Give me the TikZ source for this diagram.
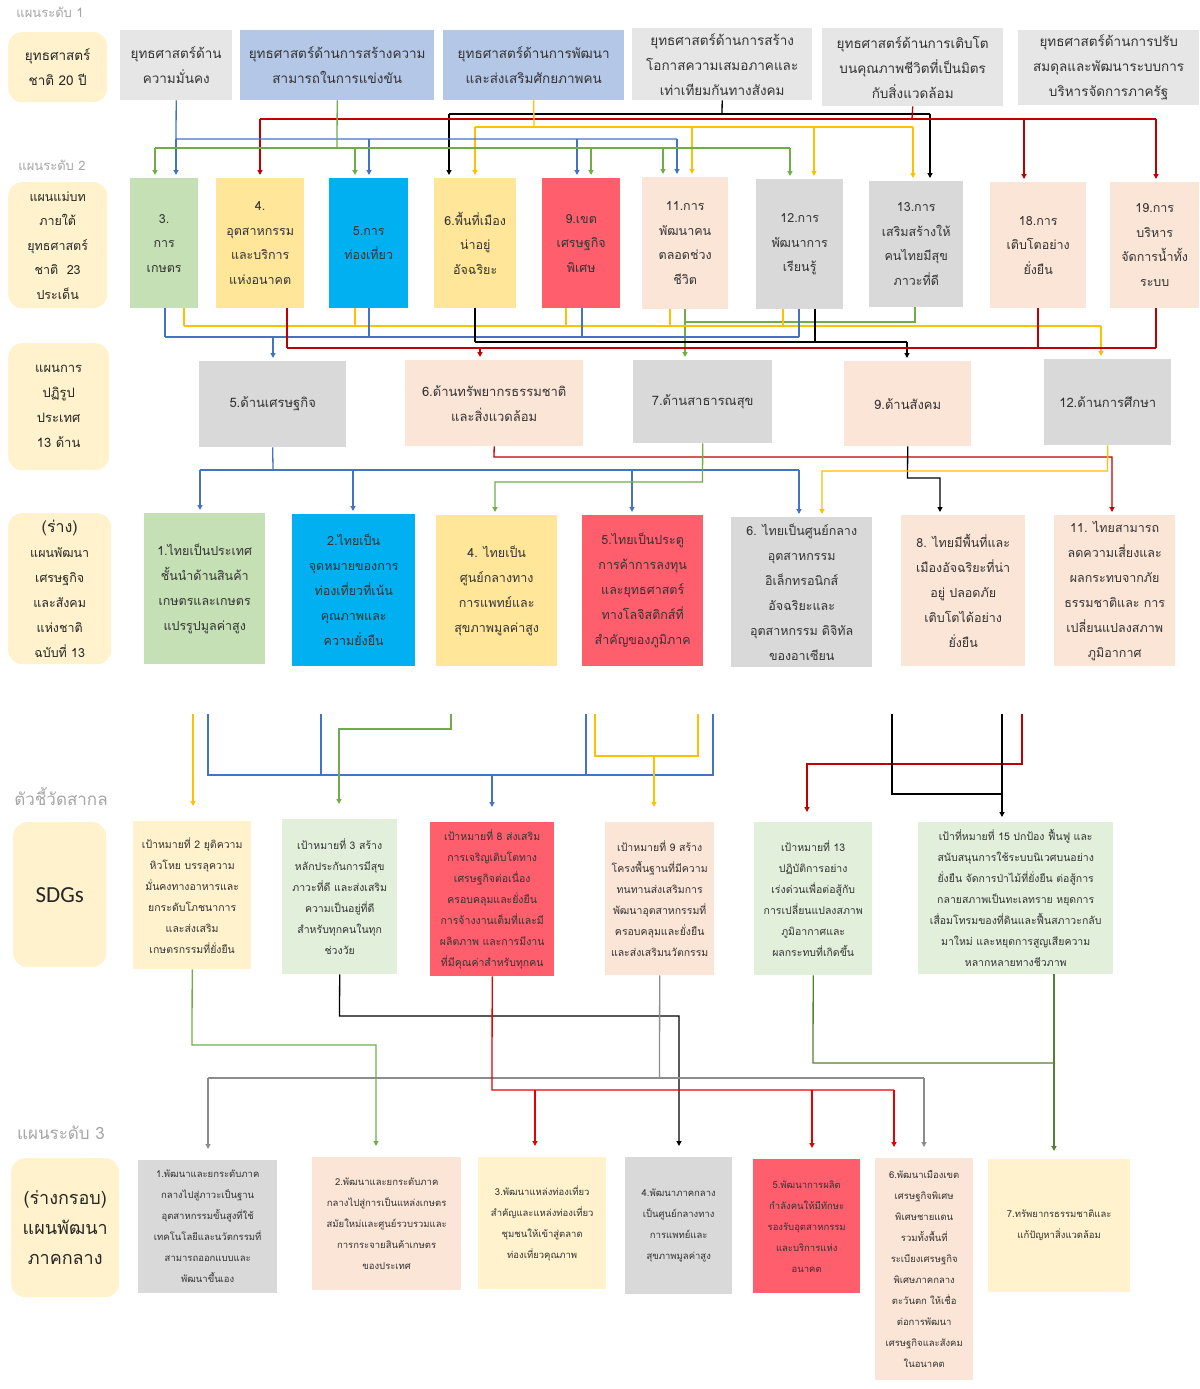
\documentclass[tikz,border=0pt]{standalone}
\usepackage{fontspec}
\newfontfamily\thai[Script=Thai]{Loma}
\newfontfamily\sdgfont{Carlito}
\usetikzlibrary{arrows.meta}
\definecolor{labc}{HTML}{FFF2CC}
\definecolor{grl}{HTML}{E7E6E6}
\definecolor{blb}{HTML}{B4C7E7}
\definecolor{grn}{HTML}{C5E0B4}
\definecolor{ylw}{HTML}{FFE699}
\definecolor{cyn}{HTML}{00B0F0}
\definecolor{rdb}{HTML}{FF5F6D}
\definecolor{pch}{HTML}{FBE5D6}
\definecolor{gry}{HTML}{D9D9D9}
\definecolor{grs}{HTML}{E2EFDA}
\definecolor{lyl}{HTML}{FFF2CC}
\definecolor{txt}{HTML}{333333}
\definecolor{headc}{HTML}{A6A6A6}
\definecolor{lblue}{HTML}{4472C4}
\definecolor{lgreen}{HTML}{70AD47}
\definecolor{lgreen2}{HTML}{548235}
\definecolor{lred}{HTML}{C00000}
\definecolor{lred2}{HTML}{E80000}
\definecolor{lyel}{HTML}{FFC000}
\definecolor{lgray}{HTML}{8C8C8C}

\begin{document}
\begin{tikzpicture}[x=1pt,y=-1pt,
  box/.style={anchor=north west,align=center,inner sep=1pt,text=txt},
  lab/.style={box,fill=labc,rounded corners=14pt,text=black!85},
  sz/.style 2 args={minimum width=#1,minimum height=#2},
  f1/.style={font=\thai\fontsize{13.5}{25}\selectfont},
  f2/.style={font=\thai\fontsize{12.5}{24.5}\selectfont},
  f3/.style={font=\thai\fontsize{13}{25}\selectfont},
  f4/.style={font=\thai\fontsize{12.5}{25}\selectfont},
  f5/.style={font=\thai\fontsize{10.5}{21}\selectfont},
  f6/.style={font=\thai\fontsize{9.5}{21}\selectfont},
  hd/.style={text=headc,font=\thai\fontsize{13}{15}\selectfont},
  ln/.style={line width=1.3pt},
  ar/.style={ln,-{Triangle[length=5pt,width=5pt]},shorten >=3pt}]
\useasboundingbox (0,0) rectangle (1199,1389);
\fill[white] (0,0) rectangle (1199,1389);

% headings
\node[hd] (h1) at (50,12) {แผนระดับ 1};
\node[hd] (h2) at (52,165) {แผนระดับ 2};
\node[hd,font=\thai\fontsize{17}{19}\selectfont] (h5) at (61,797) {ตัวชี้วัดสากล};
\node[hd,font=\thai\fontsize{17}{19}\selectfont] (h6) at (61,1133) {แผนระดับ 3};

% level 1
\node[lab,f1,sz={99}{70}] (L1) at (8,32) {ยุทธศาสตร์\\ชาติ 20 ปี};
\node[box,f1,fill=grl,sz={112}{70}] (s1) at (120,30) {ยุทธศาสตร์ด้าน\\ความมั่นคง};
\node[box,f1,fill=blb,sz={194}{70}] (s2) at (240,30) {ยุทธศาสตร์ด้านการสร้างความ\\สามารถในการแข่งขัน};
\node[box,f1,fill=blb,sz={181}{70}] (s3) at (443,30) {ยุทธศาสตร์ด้านการพัฒนา\\และส่งเสริมศักยภาพคน};
\node[box,f1,fill=grl,sz={180}{72}] (s4) at (632,28) {ยุทธศาสตร์ด้านการสร้าง\\โอกาสความเสมอภาคและ\\เท่าเทียมกันทางสังคม};
\node[box,f1,fill=grl,sz={181}{78}] (s5) at (822,28) {ยุทธศาสตร์ด้านการเติบโต\\บนคุณภาพชีวิตที่เป็นมิตร\\กับสิ่งแวดล้อม};
\node[box,f1,fill=grl,sz={181}{75}] (s6) at (1018,30) {ยุทธศาสตร์ด้านการปรับ\\สมดุลและพัฒนาระบบการ\\บริหารจัดการภาครัฐ};

% level 2: master plans
\node[lab,f2,sz={99}{126}] (L2) at (8,182) {แผนแม่บท\\ภายใต้\\ยุทธศาสตร์\\ชาติ~~23\\ประเด็น};
\node[box,f2,fill=grn,sz={68}{130}] (m3) at (130,178) {3.\\การ\\เกษตร};
\node[box,f2,fill=ylw,sz={88}{130}] (m4) at (216,178) {4.\\อุตสาหกรรม\\และบริการ\\แห่งอนาคต};
\node[box,f2,fill=cyn,sz={79}{130}] (m5) at (329,178) {5.การ\\ท่องเที่ยว};
\node[box,f2,fill=ylw,sz={82}{130}] (m6) at (434,178) {6.พื้นที่เมือง\\น่าอยู่\\อัจฉริยะ};
\node[box,f2,fill=rdb,sz={78}{130}] (m9) at (542,178) {9.เขต\\เศรษฐกิจ\\พิเศษ};
\node[box,f2,fill=pch,sz={86}{132}] (m11) at (642,177) {11.การ\\พัฒนาคน\\ตลอดช่วง\\ชีวิต};
\node[box,f2,fill=gry,sz={87}{130}] (m12) at (756,179) {12.การ\\พัฒนาการ\\เรียนรู้};
\node[box,f2,fill=gry,sz={94}{126}] (m13) at (869,181) {13.การ\\เสริมสร้างให้\\คนไทยมีสุข\\ภาวะที่ดี};
\node[box,f2,fill=pch,sz={96}{126}] (m18) at (990,182) {18.การ\\เติบโตอย่าง\\ยั่งยืน};
\node[box,f2,fill=pch,sz={89}{126}] (m19) at (1110,182) {19.การ\\บริหาร\\จัดการน้ำทั้ง\\ระบบ};

% reform plans
\node[lab,f3,sz={101}{127}] (L3) at (8,343) {แผนการ\\ปฏิรูป\\ประเทศ\\13 ด้าน};
\node[box,f3,fill=gry,sz={147}{86}] (r5) at (199,361) {5.ด้านเศรษฐกิจ};
\node[box,f3,fill=pch,sz={178}{86}] (r6) at (405,360) {6.ด้านทรัพยากรธรรมชาติ\\และสิ่งแวดล้อม};
\node[box,f3,fill=gry,sz={139}{83}] (r7) at (633,360) {7.ด้านสาธารณสุข};
\node[box,f3,fill=pch,sz={127}{85}] (r9) at (844,361) {9.ด้านสังคม};
\node[box,f3,fill=gry,sz={127}{86}] (r12) at (1044,359) {12.ด้านการศึกษา};

% national plan 13
\node[lab,f4,sz={103}{151}] (L4) at (8,513) {{\fontsize{16}{25}\selectfont(ร่าง)}\\แผนพัฒนา\\เศรษฐกิจ\\และสังคม\\แห่งชาติ\\ฉบับที่ 13};
\node[box,f4,fill=grn,sz={121}{151}] (p1) at (144,513) {1.ไทยเป็นประเทศ\\ชั้นนำด้านสินค้า\\เกษตรและเกษตร\\แปรรูปมูลค่าสูง};
\node[box,f4,fill=cyn,sz={123}{152}] (p2) at (292,514) {2.ไทยเป็น\\จุดหมายของการ\\ท่องเที่ยวที่เน้น\\คุณภาพและ\\ความยั่งยืน};
\node[box,f4,fill=ylw,sz={121}{151}] (p4) at (436,515) {4. ไทยเป็น\\ศูนย์กลางทาง\\การแพทย์และ\\สุขภาพมูลค่าสูง};
\node[box,f4,fill=rdb,sz={121}{151}] (p5) at (582,515) {5.ไทยเป็นประตู\\การค้าการลงทุน\\และยุทธศาสตร์\\ทางโลจิสติกส์ที่\\สำคัญของภูมิภาค};
\node[box,f4,fill=gry,sz={141}{150}] (p6) at (731,517) {6. ไทยเป็นศูนย์กลาง\\อุตสาหกรรม\\อิเล็กทรอนิกส์\\อัจฉริยะและ\\อุตสาหกรรม ดิจิทัล\\ของอาเซียน};
\node[box,f4,fill=pch,sz={124}{151}] (p8) at (901,515) {8. ไทยมีพื้นที่และ\\เมืองอัจฉริยะที่น่า\\อยู่ ปลอดภัย\\เติบโตได้อย่าง\\ยั่งยืน};
\node[box,f4,fill=pch,sz={121}{151}] (p11) at (1054,515) {11. ไทยสามารถ\\ลดความเสี่ยงและ\\ผลกระทบจากภัย\\ธรรมชาติและ การ\\เปลี่ยนแปลงสภาพ\\ภูมิอากาศ};

% SDGs
\node[lab,sz={93}{145},font=\sdgfont\fontsize{23}{26}\selectfont] (L5) at (13,822) {SDGs};
\node[box,f5,fill=lyl,sz={118}{148}] (g2) at (133,821) {เป้าหมายที่ 2 ยุติความ\\หิวโหย บรรลุความ\\มั่นคงทางอาหารและ\\ยกระดับโภชนาการ\\และส่งเสริม\\เกษตรกรรมที่ยั่งยืน};
\node[box,f5,fill=grs,sz={115}{155}] (g3) at (282,819) {เป้าหมายที่ 3 สร้าง\\หลักประกันการมีสุข\\ภาวะที่ดี และส่งเสริม\\ความเป็นอยู่ที่ดี\\สำหรับทุกคนในทุก\\ช่วงวัย};
\node[box,f5,fill=rdb,sz={124}{154}] (g8) at (430,822) {เป้าหมายที่ 8 ส่งเสริม\\การเจริญเติบโตทาง\\เศรษฐกิจต่อเนื่อง\\ครอบคลุมและยั่งยืน\\การจ้างงานเต็มที่และมี\\ผลิตภาพ และการมีงาน\\ที่มีคุณค่าสำหรับทุกคน};
\node[box,f5,fill=pch,sz={109}{153}] (g9) at (605,822) {เป้าหมายที่ 9 สร้าง\\โครงพื้นฐานที่มีความ\\ทนทานส่งเสริมการ\\พัฒนาอุตสาหกรรมที่\\ครอบคลุมและยั่งยืน\\และส่งเสริมนวัตกรรม};
\node[box,f5,fill=grs,sz={118}{153}] (g13) at (754,822) {เป้าหมายที่ 13\\ปฏิบัติการอย่าง\\เร่งด่วนเพื่อต่อสู้กับ\\การเปลี่ยนแปลงสภาพ\\ภูมิอากาศและ\\ผลกระทบที่เกิดขึ้น};
\node[box,f5,fill=grs,sz={195}{152}] (g15) at (918,822) {เป้าที่หมายที่ 15 ปกป้อง ฟื้นฟู และ\\สนับสนุนการใช้ระบบนิเวศบนอย่าง\\ยั่งยืน จัดการป่าไม้ที่ยั่งยืน ต่อสู้การ\\กลายสภาพเป็นทะเลทราย หยุดการ\\เสื่อมโทรมของที่ดินและฟื้นสภาวะกลับ\\มาใหม่ และหยุดการสูญเสียความ\\หลากหลายทางชีวภาพ};

% level 3: central region
\node[lab,sz={108}{139},font=\thai\fontsize{18}{30}\selectfont] (L6) at (11,1158) {(ร่างกรอบ)\\แผนพัฒนา\\ภาคกลาง};
\node[box,f6,fill=gry,sz={139}{133}] (b1) at (138,1160) {1.พัฒนาและยกระดับภาค\\กลางไปสู่ภาวะเป็นฐาน\\อุตสาหกรรมขั้นสูงที่ใช้\\เทคโนโลยีและนวัตกรรมที่\\สามารถออกแบบและ\\พัฒนาขึ้นเอง};
\node[box,f6,fill=pch,sz={149}{133}] (b2) at (312,1157) {2.พัฒนาและยกระดับภาค\\กลางไปสู่การเป็นแหล่งเกษตร\\สมัยใหม่และศูนย์รวบรวมและ\\การกระจายสินค้าเกษตร\\ของประเทศ};
\node[box,f6,fill=lyl,sz={128}{132}] (b3) at (478,1157) {3.พัฒนาแหล่งท่องเที่ยว\\สำคัญและแหล่งท่องเที่ยว\\ชุมชนให้เข้าสู่ตลาด\\ท่องเที่ยวคุณภาพ};
\node[box,f6,fill=gry,sz={107}{137}] (b4) at (625,1157) {4.พัฒนาภาคกลาง\\เป็นศูนย์กลางทาง\\การแพทย์และ\\สุขภาพมูลค่าสูง};
\node[box,f6,fill=rdb,sz={107}{134}] (b5) at (753,1159) {5.พัฒนาการผลิต\\กำลังคนให้มีทักษะ\\รองรับอุตสาหกรรม\\และบริการแห่ง\\อนาคต};
\node[box,f6,fill=pch,sz={98}{222}] (b6) at (875,1158) {6.พัฒนาเมืองเขต\\เศรษฐกิจพิเศษ\\พิเศษชายแดน\\รวมทั้งพื้นที่\\ระเบียงเศรษฐกิจ\\พิเศษภาคกลาง\\ตะวันตก ให้เชื่อ\\ต่อการพัฒนา\\เศรษฐกิจและสังคม\\ในอนาคต};
\node[box,f6,fill=lyl,sz={142}{133}] (b7) at (988,1159) {7.ทรัพยากรธรรมชาติและ\\แก้ปัญหาสิ่งแวดล้อม};

% level 1 -> level 2
\draw[ln,black] (s4.south) -- (722,114);
\draw[ln,black] (449,114) -- (930,114);
\foreach \x/\n in {449/m6,930/m13} \draw[ar,black] (\x,114) -- (\x,0 |- \n.north);
\draw[ln,lred] (s5.south) -- (912,119);
\draw[ln,lred] (260,119) -- (1156,119);
\foreach \x/\n in {260/m4,1024/m18,1156/m19} \draw[ar,lred] (\x,119) -- (\x,0 |- \n.north);
\draw[ln,lyel] (s3.south) -- (534,127);
\draw[ln,lyel] (475,127) -- (913,127);
\foreach \x/\n in {475/m6,692/m11,814/m12,913/m13} \draw[ar,lyel] (\x,127) -- (\x,0 |- \n.north);
\draw[ln,lblue] (s1.south) -- (176,139) -- (677,139);
\foreach \x/\n in {176/m3,369/m5,577/m9,677/m11} \draw[ar,lblue] (\x,139) -- (\x,0 |- \n.north);
\draw[ln,lgreen] (s2.south) -- (337,148);
\draw[ln,lgreen] (155,148) -- (790,148);
\foreach \x/\n in {155/m3,355/m5,591/m9,663/m11,790/m12} \draw[ar,lgreen] (\x,148) -- (\x,0 |- \n.north);

% level 2 -> reform plans
\draw[ln,lgreen] (915,0 |- m13.south) -- (915,322) -- (685,322);
\draw[ar,lgreen] (685,0 |- m11.south) -- (685,0 |- r7.north);
\foreach \x/\n in {184/m3,355/m5,566/m9,670/m11,783/m12} \draw[ln,lyel] (\x,0 |- \n.south) -- (\x,326);
\draw[ln,lyel] (184,326) -- (1101,326);
\draw[ar,lyel] (1101,326) -- (1101,0 |- r12.north);
\foreach \x/\n in {165/m3,369/m5,582/m9,799/m12} \draw[ln,lblue] (\x,0 |- \n.south) -- (\x,337);
\draw[ln,lblue] (165,337) -- (799,337);
\draw[ar,lblue] (273,337) -- (273,0 |- r5.north);
\foreach \x/\n in {475/m6,815/m12} \draw[ln,black] (\x,0 |- \n.south) -- (\x,342);
\draw[ln,black] (475,342) -- (907,342);
\draw[ar,black] (907,342) -- (907,0 |- r9.north);
\foreach \x/\n in {287/m4,1038/m18,1156/m19} \draw[ln,lred] (\x,0 |- \n.south) -- (\x,348);
\draw[ln,lred] (287,348) -- (1156,348);
\draw[ar,lred] (480,348) -- (480,0 |- r6.north);

% reform plans -> plan 13
\draw[ln,lblue] (r5.south) -- (273,470);
\draw[ln,lblue] (200,470) -- (799,470);
\foreach \x/\n in {200/p1,353/p2,632/p5,799/p6} \draw[ar,lblue] (\x,470) -- (\x,0 |- \n.north);
\draw[ar,lred] (r6.south) -- (494,457) -- (1112,457) -- (1112,0 |- p11.north);
\draw[ar,lgreen] (r7.south) -- (702.5,482) -- (495,482) -- (495,0 |- p4.north);
\draw[ar,black] (r9.south) -- (907.5,478) -- (940,478) -- (940,0 |- p8.north);
\draw[ar,lyel] (r12.south) -- (1107.5,471) -- (822,471) -- (822,0 |- p6.north);

% plan 13 -> SDGs (lines start below the gap)
\foreach \n/\x in {c1/193,c2/208,c3/321,c4/451,c5/586,c6/595,c7/698,c8/713,c9/892,c10/1002,c11/1022}
  \coordinate (\n) at (\x,714);
\draw[ar,lyel,shorten >=15pt] (c1) -- (c1 |- g2.north);
\draw[ln,lblue] (c2) -- (208,775) -- (713,775) -- (c8);
\draw[ln,lblue] (c3) -- (321,775);
\draw[ln,lblue] (c5) -- (586,775);
\draw[ar,lblue,shorten >=15pt] (492,775) -- (492,0 |- g8.north);
\draw[ar,lgreen,shorten >=15pt] (c4) -- (451,729) -- (339,729) -- (339,0 |- g3.north);
\draw[ln,lyel] (c6) -- (595,756) -- (698,756) -- (c7);
\draw[ar,lyel,shorten >=15pt] (654,756) -- (654,0 |- g9.north);
\draw[ar,lred,shorten >=10pt] (c11) -- (1022,764) -- (807,764) -- (807,0 |- g13.north);
\draw[ln,black] (c9) -- (892,794) -- (1002,794);
\draw[ar,black,shorten >=5pt] (c10) -- (c10 |- g15.north);

% SDGs -> level 3
\draw[ar,lgreen,shorten >=11pt] (g2.south) -- (192,1045) -- (376,1045) -- (376,0 |- b2.north);
\draw[ar,black,shorten >=11pt] (g3.south) -- (339.5,1016) -- (679,1016) -- (679,0 |- b4.north);
\draw[ln,lgray] (g9.south) -- (659.5,1078);
\draw[ln,lgray] (208,1078) -- (924,1078);
\foreach \x/\n in {208/b1,924/b6} \draw[ar,lgray,shorten >=11pt] (\x,1078) -- (\x,0 |- \n.north);
\draw[ln,lred2] (g8.south) -- (492,1090) -- (894,1090);
\foreach \x/\n in {535/b3,812/b5,894/b6} \draw[ar,lred2,shorten >=11pt] (\x,1090) -- (\x,0 |- \n.north);
\draw[ln,lgreen2] (g13.south) -- (813,1063) -- (1054,1063);
\draw[ar,lgreen2,shorten >=8pt] (1054,0 |- g15.south) -- (1054,0 |- b7.north);
\end{tikzpicture}
\end{document}
